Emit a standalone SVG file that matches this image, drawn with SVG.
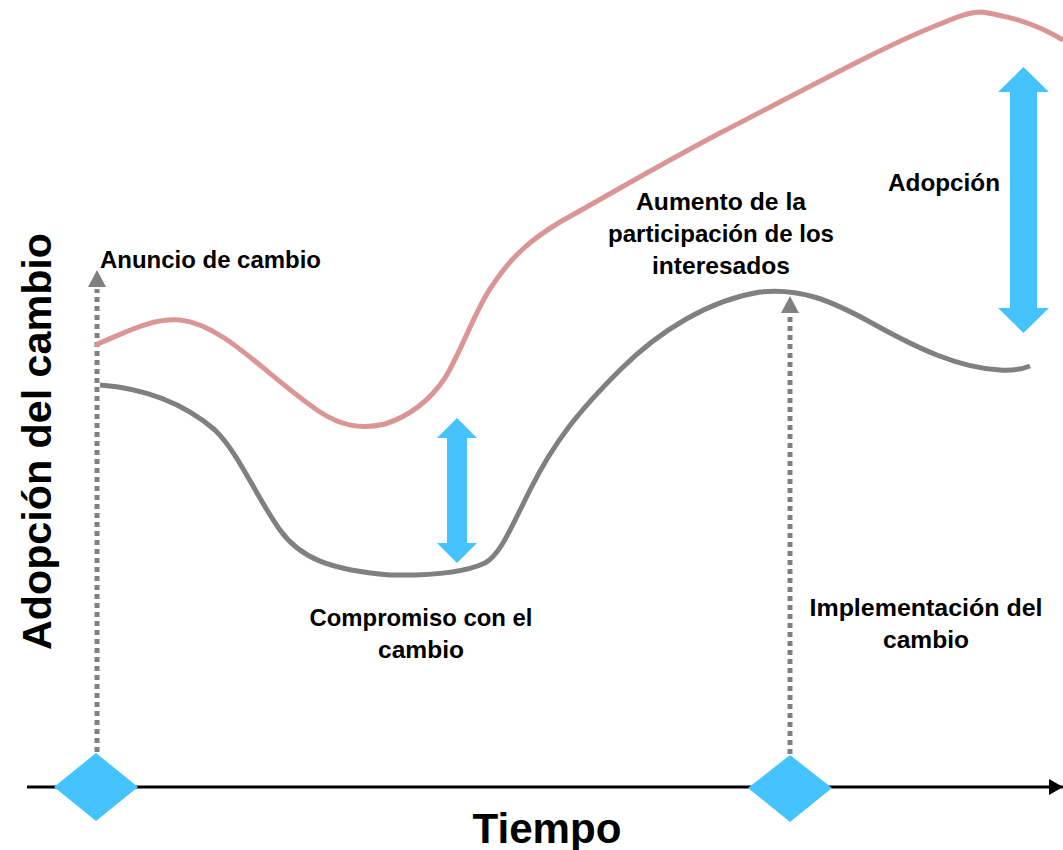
<svg xmlns="http://www.w3.org/2000/svg" width="1063" height="850" viewBox="0 0 1063 850">
<style>
.lbl{font-family:"Liberation Sans",Arial,sans-serif;font-weight:bold;font-size:24px;fill:#000}
.big{font-family:"Liberation Sans",Arial,sans-serif;font-weight:bold;fill:#000}
.dot{stroke:#808080;stroke-width:5;stroke-dasharray:5 4;fill:none}
.blue{fill:#45C3FF}
</style>
<rect width="1063" height="850" fill="#fff"/>
<g id="connectors">
<line x1="27" y1="787" x2="1063" y2="787" stroke="#000" stroke-width="3"/>
<path d="M1049,779 L1063,787 L1049,795 Z" fill="#000"/>
<line class="dot" x1="97" y1="752" x2="97" y2="289"/>
<path d="M88,287 L97,270 L106,287 Z" fill="#808080"/>
<line class="dot" x1="790" y1="754" x2="790" y2="313"/>
<path d="M781,313 L790,296 L799,313 Z" fill="#808080"/>
<path id="pink" d="M95,345 C125,333 150,318 180,320 C225,325 265,375 320,412 C340,425 360,430 385,424 C410,416 430,400 445,378 C462,350 475,310 492,286 C510,258 530,240 560,222 C600,200 650,170 720,133 C800,92 880,48 935,26 C955,18 968,12 982,12 C1000,15 1030,20 1063,40" fill="none" stroke="#DA9694" stroke-width="5"/>
<path id="gray" d="M100,385 C140,388 180,400 215,430 C240,455 255,495 280,530 C300,558 330,570 390,575 C440,576 470,570 485,563 C500,555 510,530 530,490 C555,440 580,410 620,370 C660,330 710,300 760,292 C800,288 830,300 870,322 C920,350 960,368 1000,370 C1015,371 1025,368 1030,366" fill="none" stroke="#808080" stroke-width="5"/>
</g>
<g id="arrow-small">
<path class="blue" d="M457,418 L477,438 L467,438 L467,543 L477,543 L457,563 L437,543 L447,543 L447,438 L437,438 Z"/>
</g>
<g id="arrow-big">
<path class="blue" d="M1023.5,67 L1049,92 L1037,92 L1037,308 L1049,308 L1023.5,333 L998,308 L1010,308 L1010,92 L998,92 Z"/>
</g>
<g id="diamond-1">
<path class="blue" d="M96,753 L138,787 L96,821 L54,787 Z"/>
</g>
<g id="diamond-2">
<path class="blue" d="M790,755 L832,788 L790,822 L748,788 Z"/>
</g>
<g id="label-anuncio">
<text class="lbl" x="100" y="268" textLength="221" lengthAdjust="spacingAndGlyphs">Anuncio de cambio</text>
</g>
<g id="label-aumento">
<text class="lbl" x="721" y="210" text-anchor="middle" textLength="170" lengthAdjust="spacingAndGlyphs">Aumento de la</text>
<text class="lbl" x="721" y="242" text-anchor="middle" textLength="226" lengthAdjust="spacingAndGlyphs">participación de los</text>
<text class="lbl" x="721" y="274" text-anchor="middle" textLength="138" lengthAdjust="spacingAndGlyphs">interesados</text>
</g>
<g id="label-adopcion">
<text class="lbl" x="888" y="191" textLength="112" lengthAdjust="spacingAndGlyphs">Adopción</text>
</g>
<g id="label-compromiso">
<text class="lbl" x="421" y="626" text-anchor="middle" textLength="223" lengthAdjust="spacingAndGlyphs">Compromiso con el</text>
<text class="lbl" x="421" y="658" text-anchor="middle" textLength="86" lengthAdjust="spacingAndGlyphs">cambio</text>
</g>
<g id="label-implementacion">
<text class="lbl" x="926" y="616" text-anchor="middle" textLength="233" lengthAdjust="spacingAndGlyphs">Implementación del</text>
<text class="lbl" x="926" y="648" text-anchor="middle" textLength="86" lengthAdjust="spacingAndGlyphs">cambio</text>
</g>
<g id="axis-y-label">
<text class="big" font-size="40" transform="translate(51,650) rotate(-90)" textLength="417" lengthAdjust="spacingAndGlyphs">Adopción del cambio</text>
</g>
<g id="axis-x-label">
<text class="big" font-size="43" x="547" y="843" text-anchor="middle" textLength="149" lengthAdjust="spacingAndGlyphs">Tiempo</text>
</g>
</svg>
